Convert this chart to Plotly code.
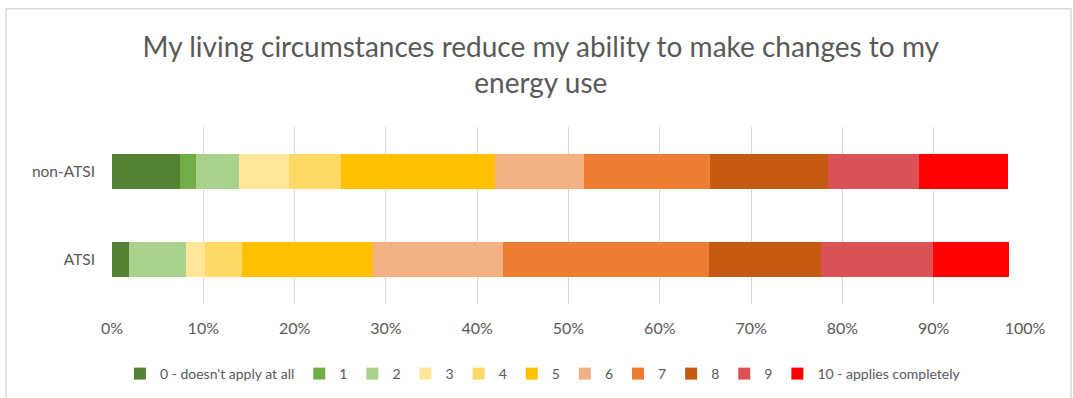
import plotly.graph_objects as go

categories = ["ATSI", "non-ATSI"]
series_names = ["0 - doesn't apply at all", "1", "2", "3", "4", "5", "6", "7", "8", "9", "10 - applies completely"]
atsi = [1.9, 0.0, 6.2, 2.1, 4.0, 14.4, 14.2, 22.6, 12.3, 12.2, 8.3]
non_atsi = [7.4, 1.8, 4.7, 5.5, 5.7, 16.9, 9.7, 13.8, 12.9, 10.0, 9.7]
colors = ["#548235", "#70ad47", "#a9d18e", "#ffe699", "#ffd966", "#ffc000",
          "#f4b183", "#ed7d31", "#c55a11", "#dc5155", "#ff0000"]
x_ticks = [0, 10, 20, 30, 40, 50, 60, 70, 80, 90, 100]
x_tick_labels = [f"{v}%" for v in x_ticks]

FONT = "Lato"
GREY = "#595959"

fig = go.Figure()
for i, name in enumerate(series_names):
    fig.add_trace(go.Bar(
        name=name,
        y=categories,
        x=[atsi[i], non_atsi[i]],
        orientation="h",
        marker=dict(color=colors[i], line=dict(width=0)),
        hovertemplate="%{y}: %{x}%<extra>" + name + "</extra>",
    ))

L, R, T, B = 112, 48, 127, 94
W, H = 1073, 398
pw = W - L - R
ph = H - T - B

fig.update_layout(
    width=W, height=H,
    barmode="stack",
    bargap=0.61,
    margin=dict(l=L, r=R, t=T, b=B),
    paper_bgcolor="white",
    plot_bgcolor="white",
    font=dict(family=FONT, color=GREY, size=16),
    title=dict(
        text="My living circumstances reduce my ability to make changes to my<br>energy use",
        x=0.504, xref="container", xanchor="center",
        y=1 - 57 / H, yref="container", yanchor="middle",
        font=dict(family=FONT, size=28, color=GREY),
    ),
    xaxis=dict(
        range=[0, 100],
        tickvals=x_ticks,
        ticktext=x_tick_labels,
        showgrid=True, gridcolor="#d9d9d9", gridwidth=1.3,
        zeroline=False, showline=False,
        ticks="", ticklabelstandoff=13,
        tickfont=dict(size=16, color=GREY),
        fixedrange=True,
    ),
    yaxis=dict(
        showgrid=False, zeroline=False, showline=False,
        ticks="", ticklabelstandoff=16,
        tickfont=dict(size=15.5, color=GREY),
        fixedrange=True,
    ),
    legend=dict(
        orientation="h",
        x=0.506, xref="container", xanchor="center",
        y=1 - 374 / H, yref="container", yanchor="middle",
        font=dict(size=14, color=GREY),
        itemwidth=30,
        traceorder="normal",
    ),
    shapes=[dict(
        type="rect", xref="paper", yref="paper",
        x0=(6 - L) / pw, x1=(1071 - L) / pw,
        y0=(H - B - 8.7) / ph, y1=(H - B - 420) / ph,
        line=dict(color="#d9d9d9", width=1.5),
        fillcolor="rgba(0,0,0,0)",
        layer="below",
    )],
)

fig.write_html("out.html")
